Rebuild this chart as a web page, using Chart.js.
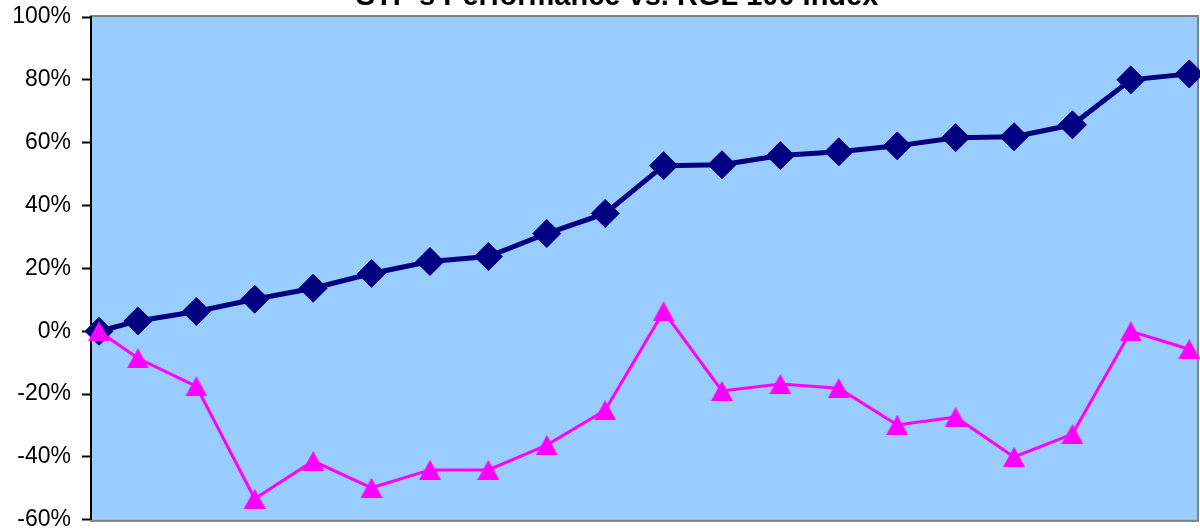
<!DOCTYPE html>
<html>
<head>
<meta charset="utf-8">
<script src="https://cdn.jsdelivr.net/npm/chart.js@4/dist/chart.umd.min.js"></script>
<style>
  html, body { margin: 0; padding: 0; background: #fff; }
  #wrap { width: 1200px; height: 532px; }
</style>
</head>
<body>
<div id="wrap"><canvas id="perfChart"></canvas></div>
<script>
const TITLE = "STP's Performance vs. RGL 100 Index";

// months from start date (first period is shorter, then quarterly)
const months = [0, 2, 5, 8, 11, 14, 17, 20, 23, 26, 29, 32, 35, 38, 41, 44, 47, 50, 53, 56];

// cumulative performance, %
const stp = [0, 3.3, 6.3, 10.2, 13.7, 18.4, 22.2, 23.8, 31.1, 37.5, 52.7, 53, 55.9, 57.1, 59, 61.6, 61.9, 65.7, 80, 81.9];
const rgl = [0, -8.6, -17.5, -53.3, -41.3, -49.8, -44.1, -44.1, -36.2, -25.1, 6.3, -19, -16.8, -18.1, -29.8, -27.3, -40, -32.7, 0, -5.7];

const yTicks = [-60, -40, -20, 0, 20, 40, 60, 80, 100];

function toPoints(vals) {
  return vals.map((v, i) => ({ x: months[i], y: v }));
}

// triangle centred in its box, like the spreadsheet marker
function triangleMarker(w, h, color) {
  const c = document.createElement('canvas');
  c.width = w; c.height = h;
  const g = c.getContext('2d');
  g.fillStyle = color;
  g.beginPath();
  g.moveTo(w / 2, 0);
  g.lineTo(w, h);
  g.lineTo(0, h);
  g.closePath();
  g.fill();
  return c;
}

// plot area fill + grey frame, and the title sitting half off the top
const frame = {
  id: 'frame',
  beforeDraw(chart) {
    const { ctx, chartArea: a } = chart;
    ctx.save();
    ctx.fillStyle = '#99CCFF';
    ctx.fillRect(a.left, a.top - 1, a.right - a.left, a.bottom - a.top + 2);
    ctx.strokeStyle = '#808080';
    ctx.lineWidth = 2;
    ctx.strokeRect(a.left, a.top - 1, a.right - a.left, a.bottom - a.top + 2);
    ctx.restore();
  },
  afterDraw(chart) {
    const ctx = chart.ctx;
    ctx.save();
    ctx.font = 'bold 29px "Liberation Sans", Arial, sans-serif';
    ctx.fillStyle = '#000';
    ctx.textAlign = 'center';
    ctx.textBaseline = 'alphabetic';
    ctx.fillText(TITLE, 617, 5);
    ctx.restore();
  }
};

const ctx = document.getElementById('perfChart').getContext('2d');
window.myChart = new Chart(ctx, {
  type: 'line',
  data: {
    datasets: [
      {
        label: 'STP',
        data: toPoints(stp),
        borderColor: '#000080',
        backgroundColor: '#000080',
        borderWidth: 5,
        pointStyle: 'rectRot',
        pointRadius: 14,
        pointBorderWidth: 1,
        order: 1
      },
      {
        label: 'RGL 100 Index',
        data: toPoints(rgl),
        borderColor: '#FF00FF',
        backgroundColor: '#FF00FF',
        borderWidth: 3,
        pointStyle: triangleMarker(22, 20, '#FF00FF'),
        pointRadius: 11,
        order: 0
      }
    ]
  },
  options: {
    responsive: true,
    maintainAspectRatio: false,
    animation: false,
    clip: false,
    layout: { autoPadding: false, padding: { top: 17, bottom: 11, right: 2, left: 0 } },
    plugins: {
      legend: { display: false },
      title: { display: false },
      tooltip: { enabled: false }
    },
    scales: {
      x: {
        type: 'linear',
        display: false,
        min: -0.41,
        max: 56.45
      },
      y: {
        min: -60,
        max: 100,
        afterBuildTicks(scale) { scale.ticks = yTicks.map(v => ({ value: v })); },
        afterFit(scale) { scale.width = 91; },
        ticks: {
          color: '#000',
          padding: 11,
          // tiny line height so the labels don't push the plot area in
          font: { family: '"Liberation Sans", Arial, sans-serif', size: 23, lineHeight: 0.1 },
          callback: v => v + '%'
        },
        grid: {
          drawOnChartArea: false,
          drawTicks: true,
          tickLength: 9,
          tickColor: '#000',
          tickWidth: 2
        },
        border: { color: '#000', width: 2 }
      }
    }
  },
  plugins: [frame]
});
</script>
</body>
</html>
